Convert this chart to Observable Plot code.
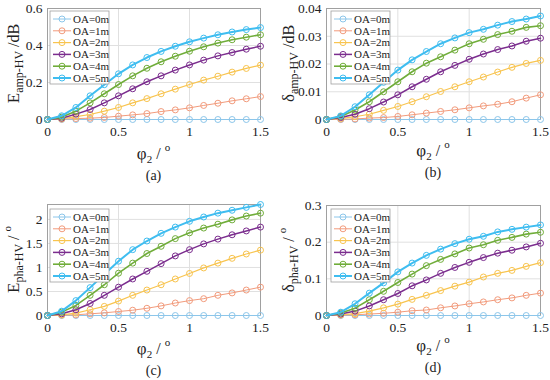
<!DOCTYPE html>
<html><head><meta charset="utf-8">
<script src="https://cdn.jsdelivr.net/npm/d3@7"></script>
<script src="https://cdn.jsdelivr.net/npm/@observablehq/plot@0.6"></script>
<style>
body{margin:0;background:#fff;}
#fig{position:relative;width:550px;height:380px;background:#fff;}
.p{position:absolute;}
</style></head><body><div id="fig"></div>
<script>
// ---------- data ----------
const xVals = [0,0.1,0.2,0.3,0.4,0.5,0.6,0.7,0.8,0.9,1.0,1.1,1.2,1.3,1.4,1.5];
const oaLabels = ["OA=0m","OA=1m","OA=2m","OA=3m","OA=4m","OA=5m"];
const xTicks = [0,0.5,1,1.5];

// (a) E amp-HV /dB
const eAmp0 = [0,0,0,0,0,0,0,0,0,0,0,0,0,0,0,0];
const eAmp1 = [0,0.002,0.005,0.007,0.011,0.018,0.025,0.032,0.043,0.052,0.063,0.076,0.088,0.101,0.112,0.124];
const eAmp2 = [0,0.004,0.016,0.027,0.045,0.065,0.09,0.113,0.139,0.164,0.189,0.213,0.234,0.256,0.276,0.294];
const eAmp3 = [0,0.007,0.029,0.054,0.09,0.128,0.166,0.204,0.236,0.267,0.295,0.321,0.344,0.362,0.38,0.396];
const eAmp4 = [0,0.013,0.045,0.09,0.139,0.189,0.236,0.277,0.312,0.342,0.369,0.393,0.413,0.431,0.445,0.458];
const eAmp5 = [0,0.02,0.065,0.128,0.188,0.247,0.295,0.335,0.368,0.396,0.42,0.44,0.458,0.473,0.486,0.497];
const eAmpTicks = [0,0.2,0.4,0.6];

// (b) delta amp-HV /dB
const dAmp0 = [0,0,0,0,0,0,0,0,0,0,0,0,0,0,0,0];
const dAmp1 = [0,0.0001,0.0002,0.0005,0.0007,0.0011,0.0017,0.0023,0.0029,0.0035,0.0042,0.0049,0.0055,0.0064,0.0077,0.0089];
const dAmp2 = [0,0.0004,0.001,0.0019,0.0033,0.0047,0.0064,0.0082,0.0101,0.0118,0.0136,0.0153,0.0171,0.0188,0.0202,0.0213];
const dAmp3 = [0,0.0007,0.0019,0.0039,0.0063,0.0089,0.0118,0.0145,0.0172,0.0195,0.0217,0.0236,0.0252,0.0265,0.0282,0.0293];
const dAmp4 = [0,0.0011,0.0034,0.0064,0.01,0.0136,0.0172,0.0203,0.0226,0.025,0.0273,0.0289,0.0306,0.0318,0.0332,0.0338];
const dAmp5 = [0,0.0013,0.0046,0.0089,0.0134,0.0178,0.0215,0.0245,0.0273,0.0294,0.0313,0.0325,0.034,0.0353,0.0362,0.0373];
const dAmpTicks = [0,0.01,0.02,0.03,0.04];

// (c) E pha-HV / deg
const ePha0 = [0,0,0,0,0,0,0,0,0,0,0,0,0,0,0,0];
const ePha1 = [0,0.007,0.014,0.035,0.055,0.083,0.11,0.15,0.2,0.26,0.31,0.35,0.42,0.47,0.53,0.59];
const ePha2 = [0,0.014,0.05,0.12,0.19,0.3,0.42,0.53,0.64,0.76,0.875,0.99,1.09,1.19,1.28,1.36];
const ePha3 = [0,0.035,0.12,0.25,0.42,0.59,0.76,0.92,1.08,1.24,1.37,1.49,1.59,1.68,1.76,1.84];
const ePha4 = [0,0.07,0.21,0.42,0.64,0.88,1.09,1.29,1.44,1.6,1.72,1.82,1.9,1.99,2.07,2.13];
const ePha5 = [0,0.09,0.31,0.58,0.86,1.13,1.37,1.55,1.71,1.84,1.96,2.05,2.13,2.19,2.25,2.31];
const ePhaTicks = [0,0.5,1,1.5,2];

// (d) delta pha-HV / deg
const dPha0 = [0,0,0,0,0,0,0,0,0,0,0,0,0,0,0,0];
const dPha1 = [0,0.001,0.002,0.004,0.006,0.009,0.013,0.015,0.021,0.026,0.032,0.037,0.043,0.048,0.055,0.061];
const dPha2 = [0,0.002,0.005,0.012,0.021,0.031,0.044,0.055,0.068,0.08,0.091,0.105,0.115,0.123,0.134,0.144];
const dPha3 = [0,0.004,0.012,0.026,0.043,0.06,0.081,0.097,0.115,0.131,0.145,0.158,0.17,0.178,0.187,0.197];
const dPha4 = [0,0.007,0.02,0.043,0.066,0.09,0.113,0.136,0.153,0.168,0.184,0.193,0.205,0.213,0.222,0.227];
const dPha5 = [0,0.009,0.032,0.061,0.089,0.119,0.143,0.164,0.181,0.196,0.208,0.216,0.228,0.235,0.241,0.247];
const dPhaTicks = [0,0.1,0.2,0.3];

// ---------- styles ----------
const colors = ["#8cc6ea","#f29b7c","#f8c44f","#7b2d8e","#70ad3a","#3fbdf0"];
const widths = [1,1,1.2,1.5,1.6,2];
const FONT = "Liberation Serif";

function toRows(seriesArrays){
  const rows = [];
  seriesArrays.forEach((arr,i)=>arr.forEach((v,j)=>rows.push({x:xVals[j], y:v, oa:oaLabels[i]})));
  return rows;
}

function richText(sel, parts){
  let cur = 0;
  parts.forEach(p=>{
    const s = p.shift||0;
    sel.append("tspan").attr("dy", s - cur).attr("font-size", p.size).text(p.t);
    cur = s;
  });
}

function makePanel(cfg){
  const rows = toRows(cfg.series);
  const marks = [
    Plot.gridX(xTicks,{stroke:"#e0e0e0",strokeOpacity:1}),
    Plot.gridY(cfg.yTicks,{stroke:"#e0e0e0",strokeOpacity:1}),
    Plot.frame({stroke:"#a0a0a0"}),
    Plot.axisX(xTicks,{tickSize:0,tickPadding:7,tickFormat:d=>String(d),label:null,fontSize:13.5,fontFamily:FONT,fill:"#222"}),
    Plot.axisY(cfg.yTicks,{tickSize:0,tickPadding:5,tickFormat:d=>String(d),label:null,fontSize:13.5,fontFamily:FONT,fill:"#222"})
  ];
  oaLabels.forEach((oa,i)=>{
    const d = rows.filter(r=>r.oa===oa);
    marks.push(Plot.line(d,{x:"x",y:"y",stroke:colors[i],strokeWidth:widths[i]}));
    marks.push(Plot.dot(d,{x:"x",y:"y",r:3,stroke:colors[i],strokeWidth:1,fill:"none"}));
  });
  const svg = Plot.plot({
    width:275, height:190,
    marginLeft:cfg.m[0], marginRight:cfg.m[1], marginTop:cfg.m[2], marginBottom:cfg.m[3],
    x:{domain:[0,1.5]},
    y:{domain:cfg.yDomain},
    style:{fontFamily:FONT, fontSize:"13px", background:"transparent", color:"#222"},
    marks
  });
  const s = d3.select(svg).attr("font-family", FONT);
  // legend
  const lx = cfg.m[0] + cfg.leg[0], ly = cfg.m[2] + cfg.leg[1];
  const g = s.append("g").attr("transform",`translate(${lx},${ly})`);
  g.append("rect").attr("width",59).attr("height",73).attr("fill","#fff").attr("stroke","#a0a0a0").attr("stroke-width",0.8);
  oaLabels.forEach((oa,i)=>{
    const yy = 8 + i*11.8;
    g.append("line").attr("x1",3).attr("x2",21).attr("y1",yy).attr("y2",yy).attr("stroke",colors[i]).attr("stroke-width",widths[i]);
    g.append("circle").attr("cx",12).attr("cy",yy).attr("r",3).attr("fill","none").attr("stroke",colors[i]);
    g.append("text").attr("x",23).attr("y",yy+3.8).attr("text-anchor","start").attr("font-family",FONT)
      .attr("font-size",11).attr("fill","#222").text(oa);
  });
  // y label
  const plotMid = cfg.m[2] + (190 - cfg.m[2] - cfg.m[3])/2;
  const yl = s.append("text").attr("transform",`translate(${cfg.ylx},${plotMid}) rotate(-90)`)
    .attr("text-anchor","middle").attr("font-family",FONT).attr("fill","#222");
  richText(yl, cfg.ylabel);
  // x label
  const plotCx = cfg.m[0] + (275 - cfg.m[0] - cfg.m[1])/2;
  const xl = s.append("text").attr("x",plotCx).attr("y",cfg.xly).attr("text-anchor","middle")
    .attr("font-family",FONT).attr("fill","#222");
  richText(xl, [{t:"φ",size:17},{t:"2",size:11,shift:4},{t:" / ",size:16,shift:0},{t:"o",size:11,shift:-8}]);
  // caption
  s.append("text").attr("x",plotCx).attr("y",cfg.capy).attr("text-anchor","middle")
    .attr("font-family",FONT).attr("font-size",14).attr("fill","#222").text(cfg.caption);
  const wrap = document.createElement("div");
  wrap.className = "p";
  wrap.style.left = cfg.pos[0]+"px"; wrap.style.top = cfg.pos[1]+"px";
  wrap.appendChild(svg);
  document.getElementById("fig").appendChild(wrap);
}

makePanel({
  series:[eAmp0,eAmp1,eAmp2,eAmp3,eAmp4,eAmp5], yDomain:[0,0.6], yTicks:eAmpTicks,
  m:[47,15,8,71], pos:[0,0], leg:[3,3], ylx:19, xly:159, capy:180, caption:"(a)",
  ylabel:[{t:"E",size:17},{t:"amp-HV",size:12,shift:4},{t:" /dB",size:16,shift:0}]
});
makePanel({
  series:[dAmp0,dAmp1,dAmp2,dAmp3,dAmp4,dAmp5], yDomain:[0,0.04], yTicks:dAmpTicks,
  m:[51,10,8,71], pos:[275,0], leg:[5,3], ylx:19, xly:156, capy:177, caption:"(b)",
  ylabel:[{t:"δ",size:17},{t:"amp-HV",size:12,shift:4},{t:" /dB",size:16,shift:0}]
});
makePanel({
  series:[ePha0,ePha1,ePha2,ePha3,ePha4,ePha5], yDomain:[0,2.31], yTicks:ePhaTicks,
  m:[47,15,14,65], pos:[0,190], leg:[3,5], ylx:19, xly:164, capy:185, caption:"(c)",
  ylabel:[{t:"E",size:17},{t:"pha-HV",size:12,shift:4},{t:" / ",size:16,shift:0},{t:"o",size:11,shift:-8}]
});
makePanel({
  series:[dPha0,dPha1,dPha2,dPha3,dPha4,dPha5], yDomain:[0,0.3], yTicks:dPhaTicks,
  m:[51,10,15,65], pos:[275,190], leg:[5,4], ylx:19, xly:161, capy:182, caption:"(d)",
  ylabel:[{t:"δ",size:17},{t:"pha-HV",size:12,shift:4},{t:" / ",size:16,shift:0},{t:"o",size:11,shift:-8}]
});
</script></body></html>
